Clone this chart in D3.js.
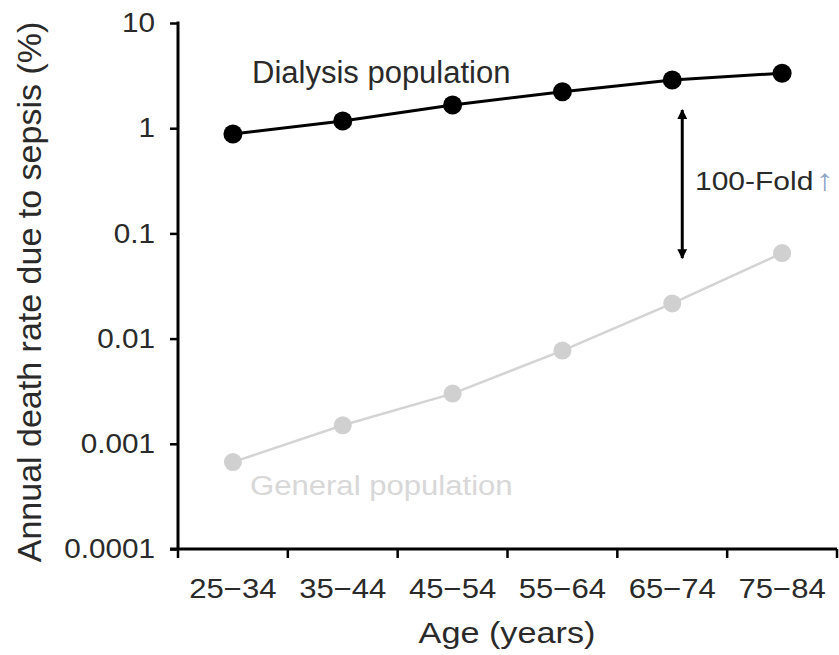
<!DOCTYPE html>
<html>
<head>
<meta charset="utf-8">
<script src="https://cdn.jsdelivr.net/npm/d3@7"></script>
<style>
body { margin: 0; background: #fff; }
text { font-family: "Liberation Sans", Arial, sans-serif; }
</style>
</head>
<body>
<div id="chart"></div>
<script>
var ageGroups = ["25\u221234", "35\u221244", "45\u221254", "55\u221264", "65\u221274", "75\u221284"];
var dialysis = [0.88, 1.17, 1.66, 2.22, 2.87, 3.33];
var general = [0.00067, 0.0015, 0.003, 0.0077, 0.0216, 0.065];
var yTicks = [0.0001, 0.001, 0.01, 0.1, 1, 10];
var yTickLabels = ["0.0001", "0.001", "0.01", "0.1", "1", "10"];

var width = 839, height = 655;

var svg = d3.select("#chart").append("svg")
  .attr("width", width)
  .attr("height", height);

var x = d3.scaleBand().domain(ageGroups).range([178, 837]);
var y = d3.scaleLog().domain([0.0001, 10]).range([549, 23]);

// y axis
var yAxis = d3.axisLeft(y)
  .tickValues(yTicks)
  .tickSize(8)
  .tickFormat(function (d, i) { return yTickLabels[i]; });

var gy = svg.append("g")
  .attr("transform", "translate(178,0)")
  .call(yAxis);
gy.select(".domain").remove();
gy.selectAll(".tick line").attr("stroke", "#000").attr("stroke-width", 2.5);
gy.selectAll(".tick text")
  .attr("font-size", 27)
  .attr("fill", "#2a2a2a")
  .attr("font-family", "Liberation Sans, Arial, sans-serif")
  .attr("x", -23 / 1.1)
  .attr("transform", "scale(1.1,1)");
gy.append("line")
  .attr("x1", 0).attr("x2", 0)
  .attr("y1", y(10) - 1.5).attr("y2", y(0.0001))
  .attr("stroke", "#000").attr("stroke-width", 3);

// x axis: labels at centres, ticks at band edges
var xAxis = d3.axisBottom(x).tickSize(0);
var gx = svg.append("g")
  .attr("transform", "translate(0,549)")
  .call(xAxis);
gx.select(".domain").remove();
gx.selectAll(".tick text")
  .attr("font-size", 27)
  .attr("fill", "#2a2a2a")
  .attr("font-family", "Liberation Sans, Arial, sans-serif")
  .attr("y", 49)
  .attr("dy", 0)
  .attr("transform", "scale(1.15,1)");
gx.append("line")
  .attr("x1", 170).attr("x2", x.range()[1])
  .attr("stroke", "#000").attr("stroke-width", 3);
var edges = ageGroups.map(function (d) { return x(d); }).concat([x.range()[1]]);
gx.selectAll(".edge")
  .data(edges)
  .enter().append("line")
  .attr("class", "edge")
  .attr("x1", function (d) { return d; })
  .attr("x2", function (d) { return d; })
  .attr("y1", 0).attr("y2", 9)
  .attr("stroke", "#000").attr("stroke-width", 2.5);

// axis titles
svg.append("text")
  .attr("transform", "translate(507,643) scale(1.18,1)")
  .attr("text-anchor", "middle")
  .attr("font-size", 29)
  .attr("fill", "#2a2a2a")
  .text("Age (years)");

svg.append("text")
  .attr("transform", "translate(41,292) rotate(-90)")
  .attr("text-anchor", "middle")
  .attr("font-size", 34)
  .attr("fill", "#2a2a2a")
  .text("Annual death rate due to sepsis (%)");

var cx = function (d, i) { return x(ageGroups[i]) + x.bandwidth() / 2; };
var line = d3.line()
  .x(function (d, i) { return cx(d, i); })
  .y(function (d) { return y(d); });

// general population
svg.append("path")
  .datum(general)
  .attr("d", line)
  .attr("fill", "none")
  .attr("stroke", "#d4d4d4")
  .attr("stroke-width", 2.5);
svg.selectAll(".gen")
  .data(general)
  .enter().append("circle")
  .attr("class", "gen")
  .attr("cx", cx)
  .attr("cy", function (d) { return y(d); })
  .attr("r", 9)
  .attr("fill", "#d0d0d0");

// dialysis population
svg.append("path")
  .datum(dialysis)
  .attr("d", line)
  .attr("fill", "none")
  .attr("stroke", "#000")
  .attr("stroke-width", 3);
svg.selectAll(".dia")
  .data(dialysis)
  .enter().append("circle")
  .attr("class", "dia")
  .attr("cx", cx)
  .attr("cy", function (d) { return y(d); })
  .attr("r", 9.5)
  .attr("fill", "#000");

// series labels
svg.append("text")
  .attr("x", 252).attr("y", 83)
  .attr("font-size", 31)
  .attr("fill", "#2a2a2a")
  .text("Dialysis population");

svg.append("text")
  .attr("transform", "translate(250,495) scale(1.11,1)")
  .attr("font-size", 28)
  .attr("fill", "#d8d8d8")
  .text("General population");

// 100-fold arrow
var defs = svg.append("defs");
defs.append("marker")
  .attr("id", "head")
  .attr("viewBox", "0 0 10 10")
  .attr("refX", 9).attr("refY", 5)
  .attr("markerWidth", 3.3).attr("markerHeight", 3.3)
  .attr("orient", "auto-start-reverse")
  .append("path")
  .attr("d", "M0,0 L10,5 L0,10 Z")
  .attr("fill", "#000");

var ax = x(ageGroups[4]) + x.bandwidth() / 2 + 10;
svg.append("line")
  .attr("x1", ax).attr("x2", ax)
  .attr("y1", y(dialysis[4]) + 30).attr("y2", y(general[5]) + 5)
  .attr("stroke", "#000").attr("stroke-width", 3)
  .attr("marker-start", "url(#head)")
  .attr("marker-end", "url(#head)");

var fold = svg.append("text")
  .attr("transform", "translate(695,190) scale(1.2,1)")
  .attr("font-size", 25)
  .attr("fill", "#2a2a2a")
  .text("100-Fold");
fold.append("tspan")
  .attr("dx", 2)
  .attr("font-size", 30)
  .attr("fill", "#8ea6c6")
  .text("\u2191");
</script>
</body>
</html>
